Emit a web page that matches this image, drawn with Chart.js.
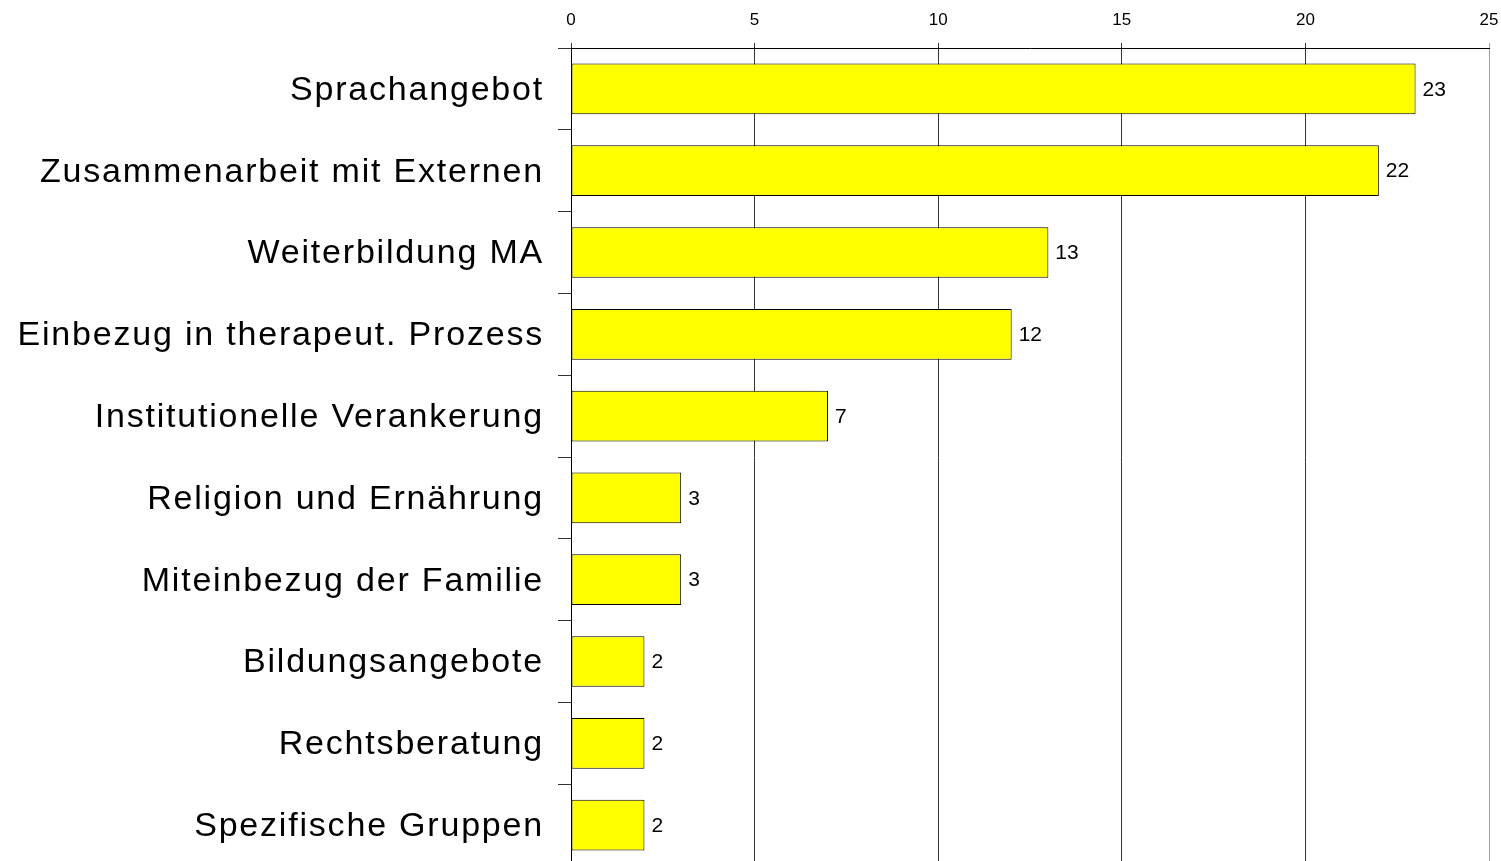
<!DOCTYPE html>
<html>
<head>
<meta charset="utf-8">
<script src="https://cdn.jsdelivr.net/npm/chart.js@4.4.1/dist/chart.umd.min.js"></script>
<style>
  html, body { margin: 0; padding: 0; background: #fff; overflow: hidden; }
  #wrap { position: relative; width: 1501px; height: 866px; }
</style>
</head>
<body>
<div id="wrap"><canvas id="c"></canvas></div>
<script>
const categories = [
  "Sprachangebot",
  "Zusammenarbeit mit Externen",
  "Weiterbildung MA",
  "Einbezug in therapeut. Prozess",
  "Institutionelle Verankerung",
  "Religion und Ernährung",
  "Miteinbezug der Familie",
  "Bildungsangebote",
  "Rechtsberatung",
  "Spezifische Gruppen"
];
const values = [23, 22, 13, 12, 7, 3, 3, 2, 2, 2];
const axisMin = 0;
const axisMax = 25;
const axisStep = 5;

const FONT = '"Liberation Sans", Arial, Helvetica, sans-serif';

const ySpacingPlugin = {
  id: 'ySpacing',
  beforeDraw(chart) {
    const s = chart.scales.y;
    if (s && !s._spacingPatched) {
      const orig = s.drawLabels.bind(s);
      s.drawLabels = function (area) {
        const ctx = this.ctx;
        const prev = ctx.letterSpacing;
        ctx.save();
        ctx.translate(0, 1.5);
        ctx.letterSpacing = '1.8px';
        orig(area);
        ctx.letterSpacing = prev || '0px';
        ctx.restore();
      };
      s._spacingPatched = true;
    }
  }
};

const valueLabelPlugin = {
  id: 'valueLabels',
  afterDatasetsDraw(chart) {
    const ctx = chart.ctx;
    const meta = chart.getDatasetMeta(0);
    ctx.save();
    ctx.font = '21px ' + FONT;
    ctx.fillStyle = '#000';
    ctx.textAlign = 'left';
    ctx.textBaseline = 'middle';
    meta.data.forEach((bar, i) => {
      const v = chart.data.datasets[0].data[i];
      ctx.fillText(String(v), bar.x + 7, bar.y + 1);
    });
    ctx.restore();
  }
};

new Chart(document.getElementById('c'), {
  type: 'bar',
  data: {
    labels: categories,
    datasets: [{
      data: values,
      backgroundColor: '#ffff00',
      borderColor: '#000000',
      borderWidth: 1,
      borderSkipped: false,
      barPercentage: 0.62,
      categoryPercentage: 1.0
    }]
  },
  options: {
    indexAxis: 'y',
    responsive: true,
    maintainAspectRatio: false,
    animation: false,
    layout: { padding: { top: 0, right: 12, bottom: 0, left: 0 } },
    plugins: {
      legend: { display: false },
      tooltip: { enabled: false },
      title: { display: false }
    },
    scales: {
      x: {
        position: 'top',
        min: axisMin,
        max: axisMax,
        ticks: {
          stepSize: axisStep,
          color: '#000',
          font: { family: FONT, size: 17 },
          padding: 12
        },
        grid: {
          color: (c) => (c.index === 5 ? '#a0a0a0' : '#333333'),
          lineWidth: 1,
          tickLength: 5,
          drawTicks: true
        },
        border: { display: true, color: '#000', width: 1 },
        afterFit(scale) {
          scale.height = 48;
          scale.paddingLeft = 0;
          scale.paddingRight = 0;
        }
      },
      y: {
        ticks: {
          color: '#000',
          font: { family: FONT, size: 34 },
          padding: 14
        },
        grid: {
          drawOnChartArea: false,
          drawTicks: true,
          tickLength: 13,
          color: '#333333',
          offset: true
        },
        border: { display: true, color: '#000', width: 1 },
        afterFit(scale) {
          scale.width = 571;
          scale.paddingTop = 0;
          scale.paddingBottom = 0;
        }
      }
    }
  },
  plugins: [ySpacingPlugin, valueLabelPlugin]
});
</script>
</body>
</html>
